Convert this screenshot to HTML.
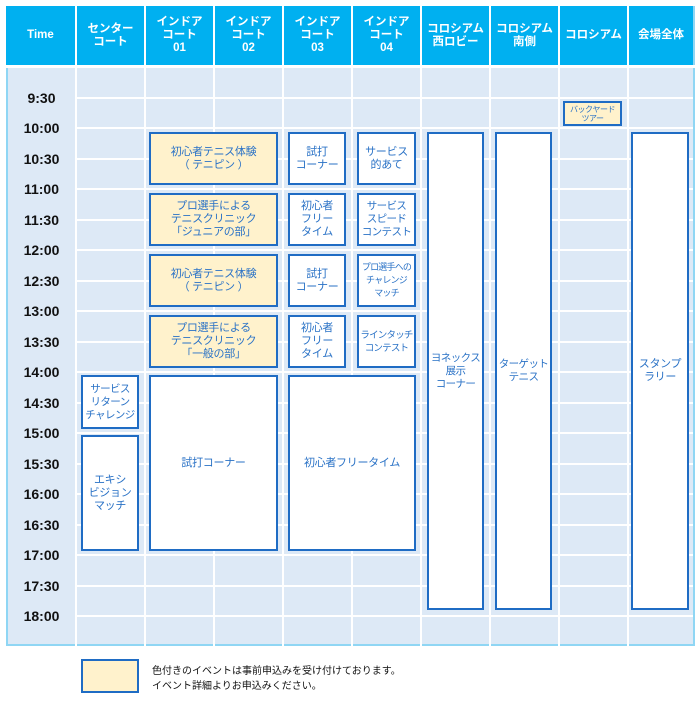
<!DOCTYPE html>
<html><head><meta charset="utf-8"><style>
*{margin:0;padding:0;box-sizing:border-box}
body{width:700px;height:715px;background:#fff;position:relative;overflow:hidden;font-family:"Liberation Sans","Noto Sans CJK JP",sans-serif}
.a{position:absolute}
.h{position:absolute;top:6px;height:59px;background:#00b0f0;color:#fff;font-weight:bold;font-size:11.5px;line-height:13px;display:flex;align-items:center;justify-content:center;text-align:center;white-space:nowrap}
.vl{position:absolute;top:66px;height:579px;width:2px;background:#fff}
.hl{position:absolute;left:76px;width:617px;height:2px;background:#fff}
.t{position:absolute;left:8px;width:67px;text-align:center;font-weight:bold;font-size:14px;color:#111;line-height:16px}
.e{position:absolute;border:2px solid #1f6cc4;background:#fff;color:#2a72c6;font-size:11px;line-height:13px;display:flex;align-items:center;justify-content:center;text-align:center;white-space:nowrap;letter-spacing:-0.3px}
.n{font-size:10.5px;letter-spacing:-0.6px}
.y{background:#fff2cc}
</style></head><body>
<div class="a" style="left:6px;top:6px;width:689px;height:640px;background:#8fd6f4"></div>
<div class="a" style="left:8px;top:66px;width:685px;height:578px;background:#dde9f6"></div>
<div class="a" style="left:6px;top:65px;width:689px;height:3px;background:#fff"></div>
<div class="h" style="left:6px;width:69px">Time</div>
<div class="h" style="left:77px;width:67px">センター<br>コート</div>
<div class="h" style="left:146px;width:67px">インドア<br>コート<br>01</div>
<div class="h" style="left:215px;width:67px">インドア<br>コート<br>02</div>
<div class="h" style="left:284px;width:67px">インドア<br>コート<br>03</div>
<div class="h" style="left:353px;width:67px">インドア<br>コート<br>04</div>
<div class="h" style="left:422px;width:67px">コロシアム<br>西ロビー</div>
<div class="h" style="left:491px;width:67px">コロシアム<br>南側</div>
<div class="h" style="left:560px;width:67px">コロシアム</div>
<div class="h" style="left:629px;width:64px">会場全体</div>
<div class="vl" style="left:75px;top:6px;height:640px"></div>
<div class="vl" style="left:144px;top:6px;height:640px"></div>
<div class="vl" style="left:213px;top:6px;height:640px"></div>
<div class="vl" style="left:282px;top:6px;height:640px"></div>
<div class="vl" style="left:351px;top:6px;height:640px"></div>
<div class="vl" style="left:420px;top:6px;height:640px"></div>
<div class="vl" style="left:489px;top:6px;height:640px"></div>
<div class="vl" style="left:558px;top:6px;height:640px"></div>
<div class="vl" style="left:627px;top:6px;height:640px"></div>
<div class="hl" style="top:97px"></div><div class="hl" style="top:127px"></div>
<div class="hl" style="top:158px"></div><div class="hl" style="top:188px"></div>
<div class="hl" style="top:219px"></div><div class="hl" style="top:249px"></div>
<div class="hl" style="top:280px"></div><div class="hl" style="top:310px"></div>
<div class="hl" style="top:341px"></div><div class="hl" style="top:371px"></div>
<div class="hl" style="top:402px"></div><div class="hl" style="top:432px"></div>
<div class="hl" style="top:463px"></div><div class="hl" style="top:493px"></div>
<div class="hl" style="top:524px"></div><div class="hl" style="top:554px"></div>
<div class="hl" style="top:585px"></div><div class="hl" style="top:615px"></div>
<div class="t" style="top:90px">9:30</div>
<div class="t" style="top:120px">10:00</div>
<div class="t" style="top:151px">10:30</div>
<div class="t" style="top:181px">11:00</div>
<div class="t" style="top:212px">11:30</div>
<div class="t" style="top:242px">12:00</div>
<div class="t" style="top:273px">12:30</div>
<div class="t" style="top:303px">13:00</div>
<div class="t" style="top:334px">13:30</div>
<div class="t" style="top:364px">14:00</div>
<div class="t" style="top:395px">14:30</div>
<div class="t" style="top:425px">15:00</div>
<div class="t" style="top:456px">15:30</div>
<div class="t" style="top:486px">16:00</div>
<div class="t" style="top:517px">16:30</div>
<div class="t" style="top:547px">17:00</div>
<div class="t" style="top:578px">17:30</div>
<div class="t" style="top:608px">18:00</div>

<div class="e y" style="left:149px;top:132px;width:129px;height:53px">初心者テニス体験<br>（ テニピン ）</div>
<div class="e y" style="left:149px;top:193px;width:129px;height:53px">プロ選手による<br>テニスクリニック<br>「ジュニアの部」</div>
<div class="e y" style="left:149px;top:254px;width:129px;height:53px">初心者テニス体験<br>（ テニピン ）</div>
<div class="e y" style="left:149px;top:315px;width:129px;height:53px">プロ選手による<br>テニスクリニック<br>「一般の部」</div>
<div class="e" style="left:149px;top:375px;width:129px;height:176px">試打コーナー</div>

<div class="e" style="left:288px;top:132px;width:58px;height:53px">試打<br>コーナー</div>
<div class="e" style="left:288px;top:193px;width:58px;height:53px">初心者<br>フリー<br>タイム</div>
<div class="e" style="left:288px;top:254px;width:58px;height:53px">試打<br>コーナー</div>
<div class="e" style="left:288px;top:315px;width:58px;height:53px">初心者<br>フリー<br>タイム</div>
<div class="e" style="left:288px;top:375px;width:128px;height:176px">初心者フリータイム</div>

<div class="e" style="left:357px;top:132px;width:59px;height:53px">サービス<br>的あて</div>
<div class="e n" style="left:357px;top:193px;width:59px;height:53px">サービス<br>スピード<br>コンテスト</div>
<div class="e" style="left:357px;top:254px;width:59px;height:53px;font-size:9px;letter-spacing:-0.8px">プロ選手への<br>チャレンジ<br>マッチ</div>
<div class="e" style="left:357px;top:315px;width:59px;height:53px;font-size:9.5px;letter-spacing:-0.8px">ラインタッチ<br>コンテスト</div>

<div class="e n" style="left:427px;top:132px;width:57px;height:478px">ヨネックス<br>展示<br>コーナー</div>
<div class="e n" style="left:495px;top:132px;width:57px;height:478px">ターゲット<br>テニス</div>
<div class="e" style="left:631px;top:132px;width:58px;height:478px">スタンプ<br>ラリー</div>
<div class="e y" style="left:563px;top:101px;width:59px;height:25px;font-size:8px;line-height:9px;letter-spacing:-0.5px">バックヤード<br>ツアー</div>

<div class="e n" style="left:81px;top:375px;width:58px;height:54px">サービス<br>リターン<br>チャレンジ</div>
<div class="e" style="left:81px;top:435px;width:58px;height:116px">エキシ<br>ビジョン<br>マッチ</div>

<div class="e y" style="left:81px;top:659px;width:58px;height:34px"></div>
<div class="a" style="left:152px;top:664px;font-size:10px;line-height:15px;color:#111;white-space:nowrap">色付きのイベントは事前申込みを受け付けております。<br>イベント詳細よりお申込みください。</div>
</body></html>
